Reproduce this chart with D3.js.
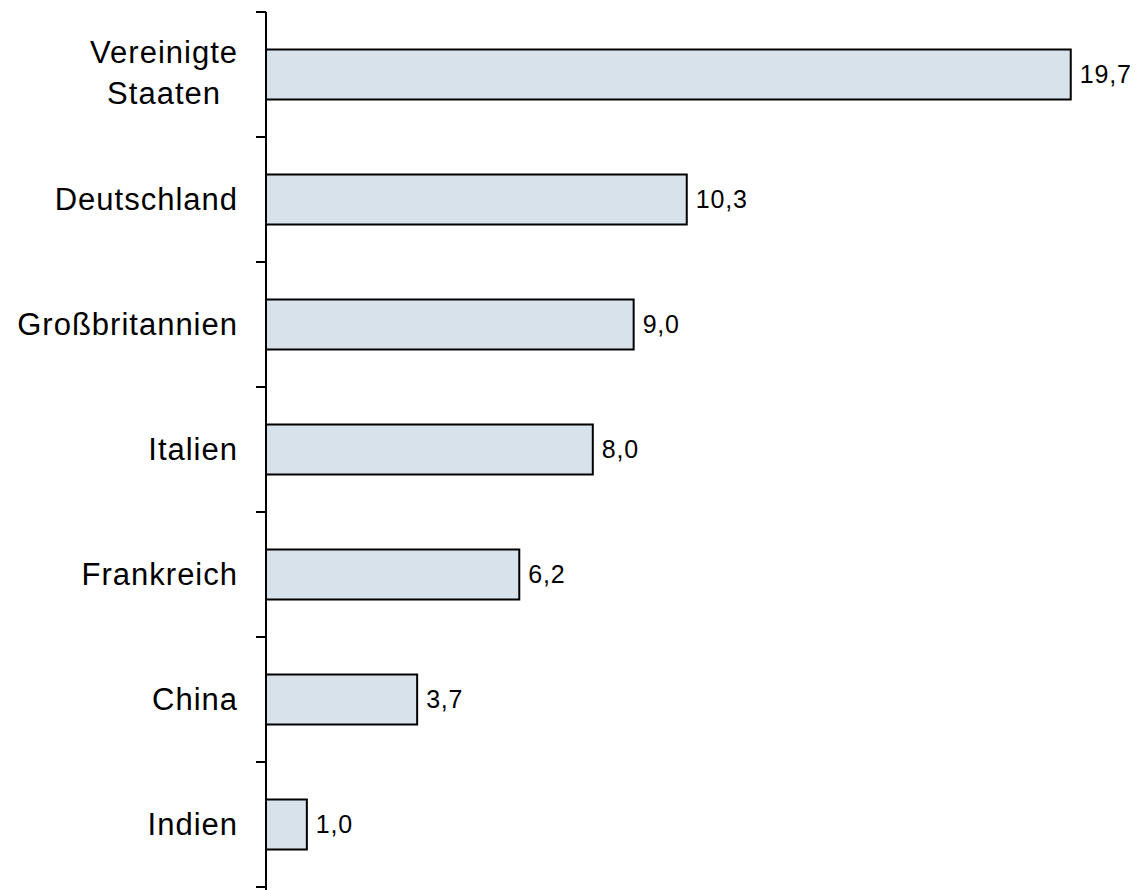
<!DOCTYPE html>
<html>
<head>
<meta charset="utf-8">
<script src="https://cdn.jsdelivr.net/npm/d3@7"></script>
<style>
  body { margin: 0; background: #fff; }
  text { font-family: "Liberation Sans", Arial, sans-serif; fill: #000; }
</style>
</head>
<body>
<svg></svg>
<script>
var countries = ["Vereinigte Staaten", "Deutschland", "Großbritannien", "Italien", "Frankreich", "China", "Indien"];
var labelLines = [["Vereinigte", "Staaten"], ["Deutschland"], ["Großbritannien"], ["Italien"], ["Frankreich"], ["China"], ["Indien"]];
var values = [19.7, 10.3, 9.0, 8.0, 6.2, 3.7, 1.0];

var svgWidth = 1140, svgHeight = 890;
var axisX = 266, plotTop = 12, plotBottom = 887;

var svg = d3.select('svg').attr('width', svgWidth).attr('height', svgHeight);

var xScale = d3.scaleLinear().domain([0, 20]).range([axisX, 1083]);
var yScale = d3.scaleBand().domain(countries).range([plotTop, plotBottom])
    .paddingInner(0.6).paddingOuter(0.3);

var step = yScale.step();
var fmt = function (d) { return d3.format(".1f")(d).replace(".", ","); };

// bars
svg.selectAll('rect.bar')
    .data(values)
    .enter()
    .append('rect')
    .attr('class', 'bar')
    .attr('x', xScale(0))
    .attr('y', function (d, i) { return yScale(countries[i]); })
    .attr('width', function (d) { return xScale(d) - xScale(0); })
    .attr('height', yScale.bandwidth())
    .attr('fill', '#d7e2eb')
    .attr('stroke', '#000')
    .attr('stroke-width', 2);

// value labels
svg.selectAll('text.val')
    .data(values)
    .enter()
    .append('text')
    .attr('class', 'val')
    .attr('x', function (d) { return xScale(d) + 9; })
    .attr('y', function (d, i) { return yScale(countries[i]) + yScale.bandwidth() / 2; })
    .attr('dy', '0.35em')
    .attr('font-size', 25)
    .attr('letter-spacing', 0.8)
    .text(fmt);

// axis line with ticks between categories
var tickYs = d3.range(countries.length + 1).map(function (i) { return plotTop + i * step; });
svg.append('line')
    .attr('x1', axisX).attr('x2', axisX)
    .attr('y1', plotTop).attr('y2', svgHeight)
    .attr('stroke', '#000').attr('stroke-width', 2);
svg.selectAll('line.tick')
    .data(tickYs)
    .enter()
    .append('line')
    .attr('class', 'tick')
    .attr('x1', axisX - 10).attr('x2', axisX)
    .attr('y1', function (d) { return d; })
    .attr('y2', function (d) { return d; })
    .attr('stroke', '#000').attr('stroke-width', 2);

// category labels
var lab = svg.selectAll('text.cat')
    .data(labelLines)
    .enter()
    .append('text')
    .attr('class', 'cat')
    .attr('text-anchor', 'middle')
    .attr('font-size', 31)
    .attr('letter-spacing', 1)
    .attr('y', function (d, i) { return yScale(countries[i]) + yScale.bandwidth() / 2; });

lab.each(function (lines, i) {
    var t = d3.select(this);
    var n = lines.length;
    lines.forEach(function (l, j) {
        t.append('tspan')
            .attr('x', 0)
            .attr('dy', j === 0 ? (n > 1 ? '-0.38em' : '0.35em') : '1.32em')
            .text(l);
    });
    // right-align the block, lines centred within it
    var bw = this.getBBox().width;
    t.selectAll('tspan').attr('x', 238 - bw / 2);
});
</script>
</body>
</html>
